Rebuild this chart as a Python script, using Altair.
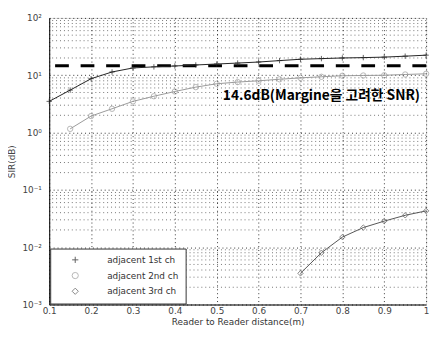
import altair as alt
import pandas as pd

# ---- data ----
x_main = [0.1, 0.15, 0.2, 0.25, 0.3, 0.35, 0.4, 0.45, 0.5, 0.55, 0.6, 0.65, 0.7, 0.75, 0.8, 0.85, 0.9, 0.95, 1.0]
ch1 = [3.5, 5.5, 8.7, 11.4, 13.4, 14.0, 14.5, 15.1, 15.7, 16.3, 17.0, 18.0, 19.0, 19.5, 20.0, 20.3, 20.7, 21.5, 22.4]
x_ch2 = [0.15, 0.2, 0.25, 0.3, 0.35, 0.4, 0.45, 0.5, 0.55, 0.6, 0.65, 0.7, 0.75, 0.8, 0.85, 0.9, 0.95, 1.0]
ch2 = [1.16, 1.94, 2.6, 3.5, 4.3, 5.2, 6.2, 7.1, 7.6, 8.0, 8.5, 9.0, 9.4, 9.8, 9.9, 10.0, 10.3, 10.6]
x_ch3 = [0.7, 0.75, 0.8, 0.85, 0.9, 0.95, 1.0]
ch3 = [0.0035, 0.008, 0.015, 0.022, 0.0285, 0.036, 0.043]
series_names = ["adjacent 1st ch", "adjacent 2nd ch", "adjacent 3rd ch"]
threshold = 14.6
annotation = "14.6dB(Margine을 고려한 SNR)"
x_ticks = [0.1, 0.2, 0.3, 0.4, 0.5, 0.6, 0.7, 0.8, 0.9, 1.0]
y_ticks = [0.001, 0.01, 0.1, 1, 10, 100]
minor_y = [m * d for d in [0.001, 0.01, 0.1, 1, 10] for m in range(2, 10)]

rows = []
for xs, ys, name in [(x_main, ch1, series_names[0]), (x_ch2, ch2, series_names[1]), (x_ch3, ch3, series_names[2])]:
    for a, b in zip(xs, ys):
        rows.append({"x": a, "y": b, "series": name})
df = pd.DataFrame(rows)

xscale = alt.Scale(domain=[0.1, 1.0], nice=False, zero=False)
yscale = alt.Scale(type="log", domain=[0.001, 100], nice=False)

ylabel = ("datum.value >= 99 ? '10²' : datum.value >= 9 ? '10¹' : datum.value >= 0.9 ? '10⁰' : "
          "datum.value >= 0.09 ? '10⁻¹' : datum.value >= 0.009 ? '10⁻²' : '10⁻³'")

xaxis = alt.Axis(values=x_ticks, labelExpr="datum.value == 1 ? '1' : format(datum.value, '.1f')",
                 title="Reader to Reader distance(m)", grid=True, gridColor="#000", gridDash=[1, 3],
                 gridOpacity=0.8, tickColor="#000", domainColor="#000", labelFontSize=9,
                 titleFontSize=9, titleFontWeight="normal", labelColor="#444", titleColor="#333",
                 tickSize=0, titlePadding=2, labelFlush=False)
yaxis = alt.Axis(values=y_ticks, labelExpr=ylabel, title="SIR(dB)", grid=True, gridColor="#000",
                 gridDash=[1, 3], gridOpacity=0.8, tickColor="#000", domainColor="#000",
                 labelFontSize=9, titleFontSize=9, titleFontWeight="normal", labelColor="#444",
                 titleColor="#444", tickSize=0, labelPadding=8, titlePadding=6)

minor = alt.Chart(pd.DataFrame({"v": minor_y})).mark_rule(
    color="#000", strokeDash=[1, 3], strokeWidth=1, opacity=0.55
).encode(y=alt.Y("v:Q", scale=yscale, axis=yaxis))

thr = alt.Chart(pd.DataFrame({"v": [threshold]})).mark_rule(
    color="#000", strokeDash=[14, 12], strokeWidth=3
).encode(y=alt.Y("v:Q", scale=yscale))

color_scale = alt.Scale(domain=series_names, range=["#222", "#999", "#555"])
shape_scale = alt.Scale(domain=series_names,
                        range=["M-1,0H1M0,-1V1", "circle", "diamond"])
leg = alt.Legend(title=None, orient="bottom-left", fillColor="white", strokeColor="#333",
                 padding=7, labelFontSize=9, labelColor="#333", symbolSize=40, offset=1,
                 rowPadding=5, symbolStrokeWidth=1, symbolFillColor="white",
                 labelOffset=28, symbolOffset=14)

lines = alt.Chart(df).mark_line(strokeWidth=1).encode(
    x=alt.X("x:Q", scale=xscale, axis=xaxis),
    y=alt.Y("y:Q", scale=yscale),
    color=alt.Color("series:N", scale=color_scale, legend=leg),
    detail="series:N",
)
points = alt.Chart(df).mark_point(size=30, filled=False, strokeWidth=1).encode(
    x=alt.X("x:Q", scale=xscale),
    y=alt.Y("y:Q", scale=yscale),
    color=alt.Color("series:N", scale=color_scale, legend=leg),
    shape=alt.Shape("series:N", scale=shape_scale, legend=leg),
)

text = alt.Chart(pd.DataFrame({"x": [0.75], "y": [4.3], "t": [annotation]})).mark_text(
    font="Noto Sans CJK KR", fontWeight="bold", fontSize=14, color="#000", align="center"
).encode(x=alt.X("x:Q", scale=xscale), y=alt.Y("y:Q", scale=yscale), text="t:N")

chart = alt.layer(minor, thr, lines, points, text).properties(
    width=384, height=292,
    autosize=alt.AutoSizeParams(type="none"),
    padding={"left": 42, "top": 7, "right": 6, "bottom": 30},
).configure_view(stroke="#000", strokeWidth=1).configure(font="DejaVu Sans")

chart.save("out.html", embed_options={"renderer": "svg", "actions": False})
